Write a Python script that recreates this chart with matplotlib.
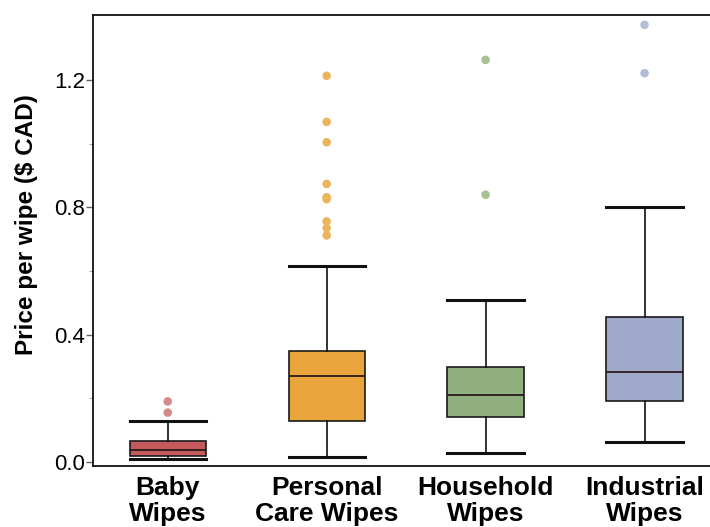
import matplotlib
matplotlib.use("Agg")
import matplotlib.pyplot as plt

plt.rcParams['font.family'] = ['Liberation Sans', 'DejaVu Sans']

categories = ["Baby\nWipes", "Personal\nCare Wipes", "Household\nWipes", "Industrial\nWipes"]
whislo = [0.008, 0.015, 0.027, 0.064]
q1 = [0.019, 0.130, 0.140, 0.190]
med = [0.036, 0.271, 0.211, 0.282]
q3 = [0.067, 0.350, 0.297, 0.457]
whishi = [0.128, 0.617, 0.509, 0.801]
fliers = [
    [0.155, 0.190],
    [0.712, 0.735, 0.756, 0.826, 0.832, 0.874, 1.005, 1.069, 1.214],
    [0.840, 1.264],
    [1.222, 1.374],
]
yticks = [0.0, 0.4, 0.8, 1.2]
yminor = [0.2, 0.6, 1.0]
box_colors = ["#C45A5C", "#E9A53C", "#8FAF7F", "#9FAACB"]
flier_colors = ["#D48A88", "#EDB45E", "#A8C096", "#B4BDD8"]

fig = plt.figure(figsize=(7.10, 5.27), dpi=100)
ax = fig.add_axes([0.131, 0.1157, 0.882, 0.8558])

stats = []
for i in range(len(categories)):
    stats.append(dict(whislo=whislo[i], q1=q1[i], med=med[i], q3=q3[i],
                      whishi=whishi[i], fliers=[], label=categories[i]))

bp = ax.bxp(stats, positions=range(len(categories)), widths=0.48,
            patch_artist=True, showfliers=False,
            boxprops=dict(edgecolor="#1a1a1a", linewidth=1.2),
            medianprops=dict(color="#2a1a1a", linewidth=1.3),
            whiskerprops=dict(color="#111111", linewidth=1.2),
            capprops=dict(color="#111111", linewidth=2.2),
            capwidths=0.48)
for patch, c in zip(bp['boxes'], box_colors):
    patch.set_facecolor(c)

for i, fl in enumerate(fliers):
    ax.scatter([i] * len(fl), fl, s=38, color=flier_colors[i], edgecolors='none', zorder=3)

ax.set_xlim(-0.47, 3.47)
ax.set_ylim(-0.013, 1.405)
ax.set_yticks(yticks)
ax.set_yticklabels([f"{v:.1f}" for v in yticks])
ax.set_yticks(yminor, minor=True)
ax.tick_params(axis='y', labelsize=16, length=5, width=1, color="#666666", pad=0.5)
ax.tick_params(axis='y', which='minor', length=3, width=0.8, color="#aaaaaa")
ax.tick_params(axis='x', length=0, labelsize=19, pad=7)
for lbl in ax.get_xticklabels():
    lbl.set_fontweight('bold')
    lbl.set_linespacing(1.12)
ax.set_ylabel("Price per wipe ($ CAD)", fontsize=17.5, fontweight='bold')
ax.yaxis.set_label_coords(-0.088, 0.535)
for s in ax.spines.values():
    s.set_linewidth(1.3)
    s.set_color("#111111")

fig.savefig("out.png", dpi=100)
